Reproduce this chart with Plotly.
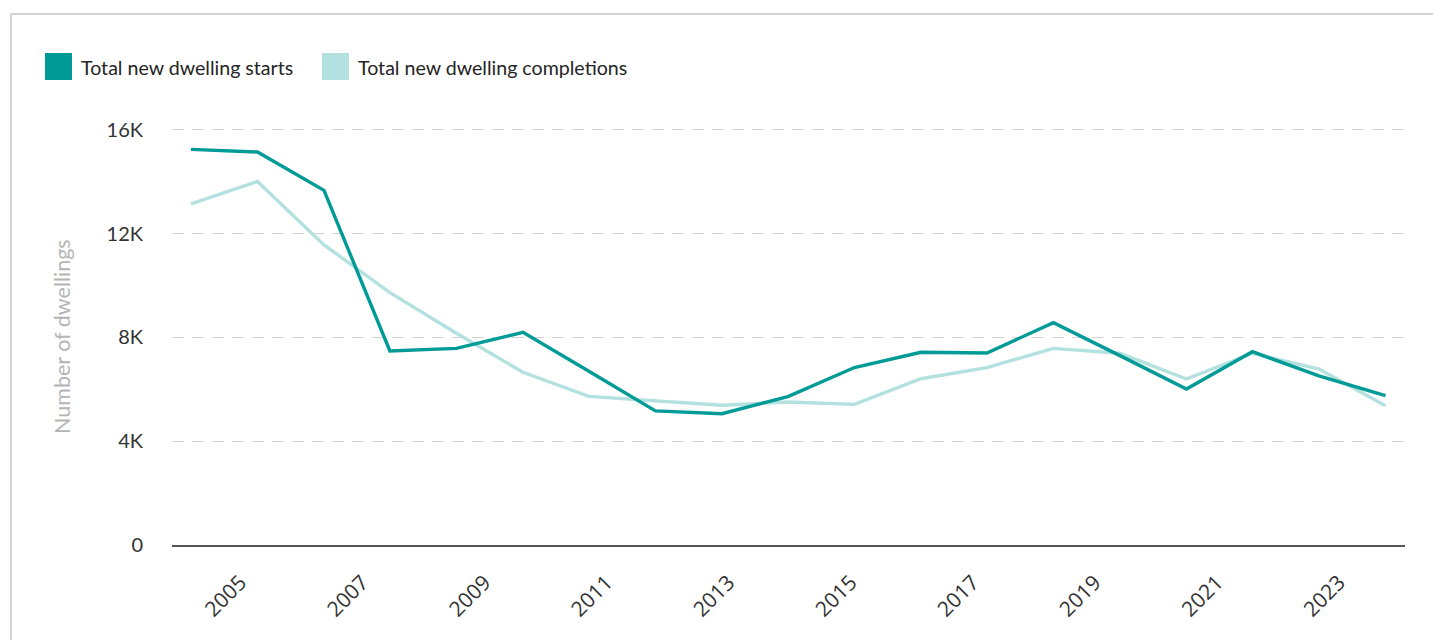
import plotly.graph_objects as go

# ---- data ----
x_years = [2004.19, 2005.28, 2006.37, 2007.45, 2008.54, 2009.63, 2010.71, 2011.80,
           2012.89, 2013.97, 2015.06, 2016.15, 2017.23, 2018.32, 2019.41, 2020.50,
           2021.58, 2022.67, 2023.76]
starts = [15250, 15150, 13670, 7480, 7580, 8200, 6700, 5170, 5060, 5720, 6840,
          7430, 7400, 8570, 7300, 6010, 7450, 6520, 5760]
completions = [13150, 14010, 11570, 9730, 8160, 6660, 5730, 5550, 5390, 5510, 5420,
               6410, 6840, 7580, 7390, 6400, 7390, 6780, 5370]
tick_years = [2005, 2007, 2009, 2011, 2013, 2015, 2017, 2019, 2021, 2023]
y_ticks = [0, 4000, 8000, 12000, 16000]
y_tick_text = ["0", "4K", "8K", "12K", "16K"]
series_names = ["Total new dwelling starts", "Total new dwelling completions"]
y_title = "Number of dwellings"
colors = ["#009b96", "#b3e1df"]

W, H = 1433, 640
L, R, T, B = 172, 28, 104, 95
PW, PH = W - L - R, H - T - B


def px(xp):
    return (xp - L) / PW


def py(yp):
    return (H - B - yp) / PH


fig = go.Figure()
fig.add_trace(go.Scatter(x=x_years, y=completions, mode="lines", name=series_names[1],
                         line=dict(color=colors[1], width=3.4), showlegend=False))
fig.add_trace(go.Scatter(x=x_years, y=starts, mode="lines", name=series_names[0],
                         line=dict(color=colors[0], width=3.4), showlegend=False))

shapes = [
    dict(type="rect", xref="paper", yref="paper", x0=px(11), x1=px(1445), y0=py(660), y1=py(14),
         line=dict(color="#d4d4d4", width=2), fillcolor="rgba(0,0,0,0)", layer="below"),
    dict(type="rect", xref="paper", yref="paper", x0=px(45), x1=px(72), y0=py(80), y1=py(53),
         line=dict(width=0), fillcolor=colors[0]),
    dict(type="rect", xref="paper", yref="paper", x0=px(322), x1=px(349), y0=py(80), y1=py(53),
         line=dict(width=0), fillcolor=colors[1]),
]
annotations = [
    dict(text=series_names[0], xref="paper", yref="paper", x=px(79), y=py(67),
         xanchor="left", yanchor="middle", showarrow=False,
         font=dict(family="Lato", size=19.6, color="#252525")),
    dict(text=series_names[1], xref="paper", yref="paper", x=px(356), y=py(67),
         xanchor="left", yanchor="middle", showarrow=False,
         font=dict(family="Lato", size=19.6, color="#252525")),
    dict(text=y_title, xref="paper", yref="paper", x=px(62), y=py(336),
         xanchor="center", yanchor="middle", textangle=-90, showarrow=False,
         font=dict(family="Lato", size=21.5, color="#b5b5b5")),
]

fig.update_layout(
    width=W, height=H,
    margin=dict(l=L, r=R, t=T, b=B),
    paper_bgcolor="white", plot_bgcolor="white",
    showlegend=False,
    shapes=shapes, annotations=annotations,
    xaxis=dict(range=[2003.88, 2024.08], tickmode="array", tickvals=tick_years,
               ticktext=[str(t) for t in tick_years], tickangle=-45,
               showgrid=False, zeroline=False, showline=True, linecolor="#555555",
               linewidth=2, ticks="", ticklabelstandoff=15,
               tickfont=dict(family="Open Sans", size=21, color="#333333")),
    yaxis=dict(range=[0, 17000], tickmode="array", tickvals=y_ticks, ticktext=y_tick_text,
               showgrid=True, gridcolor="#d3d3d3", gridwidth=1, griddash="12px,8px",
               zeroline=False, showline=False, ticks="", ticklabelstandoff=28,
               tickfont=dict(family="Lato", size=20, color="#333333")),
)

fig.write_html("out.html")
